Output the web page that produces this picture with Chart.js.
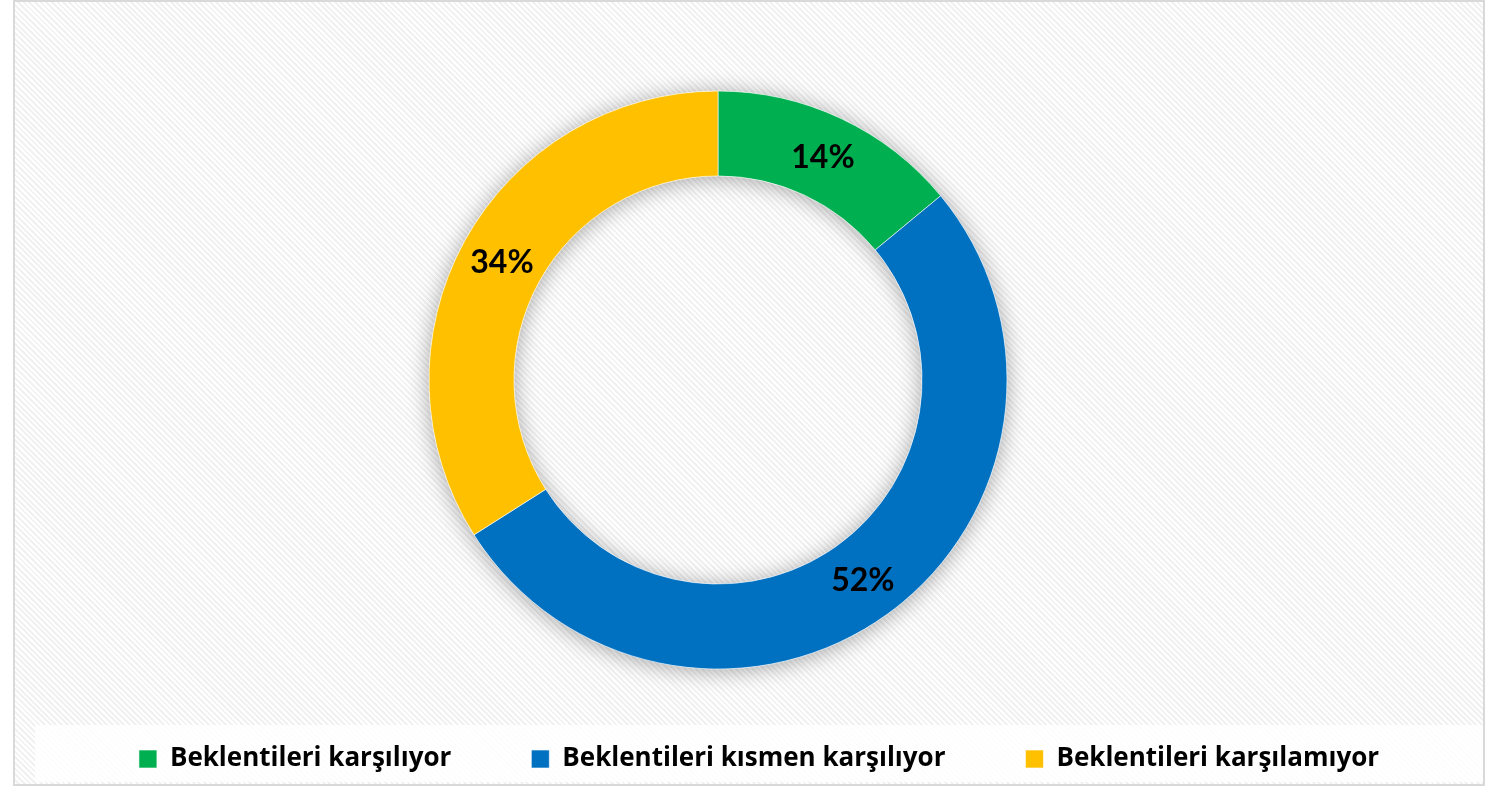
<!DOCTYPE html>
<html>
<head>
<meta charset="utf-8">
<script src="https://cdn.jsdelivr.net/npm/chart.js@4.4.1/dist/chart.umd.min.js"></script>
<style>
  html, body { margin: 0; padding: 0; background: #fff; }
  .frame {
    position: absolute; left: 13px; top: 0; width: 1472px; height: 786px;
    box-sizing: border-box; border: 2px solid #d9d9d9;
    background: repeating-linear-gradient(45deg, #ffffff 0px, #ffffff 2px, #f1f1f1 2px, #f1f1f1 4px);
  }
  .legend-bg {
    position: absolute; left: 20px; top: 723px; width: 1448px; height: 57px;
    background: rgba(255,255,255,0.82);
  }
  canvas { position: absolute; left: 0; top: 0; }
</style>
</head>
<body>
<div class="frame">
  <div class="legend-bg"></div>
  <canvas id="donut" width="1468" height="782"></canvas>
</div>
<script>
const categories = ["Beklentileri karşılıyor", "Beklentileri kısmen karşılıyor", "Beklentileri karşılamıyor"];
const shares = [14, 52, 34];
const colors = ["#00B050", "#0070C0", "#FFC000"];

// soft shadow under the ring, drawn once so slices don't smudge each other
const ringShadow = {
  id: "ringShadow",
  beforeDatasetsDraw(chart) {
    const arc = chart.getDatasetMeta(0).data[0];
    if (!arc) return;
    const {x, y, innerRadius, outerRadius} = arc.getProps(["x", "y", "innerRadius", "outerRadius"], true);
    const ctx = chart.ctx;
    ctx.save();
    ctx.shadowColor = "rgba(0,0,0,0.35)";
    ctx.shadowBlur = 22;
    ctx.shadowOffsetY = 2;
    ctx.fillStyle = "#ffffff";
    ctx.beginPath();
    ctx.arc(x, y, outerRadius, 0, Math.PI * 2);
    ctx.arc(x, y, innerRadius, 0, Math.PI * 2, true);
    ctx.fill();
    ctx.restore();
  }
};

const sliceLabels = {
  id: "sliceLabels",
  afterDatasetsDraw(chart) {
    const ctx = chart.ctx;
    const meta = chart.getDatasetMeta(0);
    ctx.save();
    ctx.font = "bold 32px Lato";
    ctx.fillStyle = "#000";
    ctx.textAlign = "center";
    ctx.textBaseline = "middle";
    meta.data.forEach((arc, i) => {
      const p = arc.tooltipPosition();
      ctx.fillText(shares[i] + "%", p.x, p.y + 1);
    });
    ctx.restore();
  }
};

// legend sits a bit right of the ring's centre in the original
const legendShift = {
  id: "legendShift",
  afterLayout(chart) {
    chart.legend.left += 41;
    chart.legend.right += 41;
  }
};

new Chart(document.getElementById("donut"), {
  type: "doughnut",
  data: {
    labels: categories,
    datasets: [{
      data: shares,
      backgroundColor: colors,
      borderColor: "rgba(255,255,255,0.6)",
      borderWidth: 1
    }]
  },
  options: {
    responsive: false,
    animation: false,
    radius: 289,
    cutout: "70.6%",
    layout: { padding: { top: 92, bottom: 2, left: 0, right: 62 } },
    plugins: {
      tooltip: { enabled: false },
      legend: {
        position: "bottom",
        labels: {
          boxWidth: 18,
          boxHeight: 18,
          padding: 80,
          color: "#000",
          font: { family: "Open Sans", size: 26, weight: "bold" }
        }
      }
    }
  },
  plugins: [ringShadow, sliceLabels, legendShift]
});
</script>
</body>
</html>
